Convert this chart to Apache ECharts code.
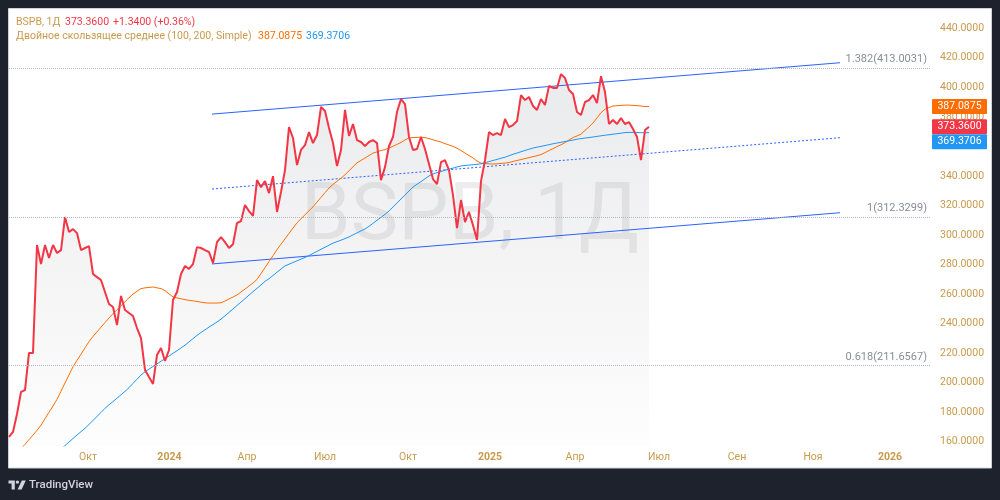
<!DOCTYPE html>
<html><head><meta charset="utf-8">
<script src="https://cdn.jsdelivr.net/npm/echarts@6/dist/echarts.min.js"></script>
<style>html,body{margin:0;padding:0;background:#1e222d;}#c{width:1000px;height:500px;}</style>
</head><body><div id="c"></div>
<script>
// ---- data (x = sample index along the bar axis) ----
const priceVals = [163.2,166.6,178.8,193.7,195.0,220.1,220.1,293.2,280.4,293.2,
284.4,293.2,287.8,289.8,312.2,302.0,304.0,301.3,289.8,291.2,
292.5,273.6,271.5,269.5,261.4,253.3,251.2,239.0,258.7,249.2,
247.2,245.1,237.0,230.2,208.6,203.8,199.1,218.7,223.5,214.7,
222.1,256.0,261.4,273.6,279.0,277.0,280.3,291.8,291.2,289.8,
288.5,281.0,295.2,298.6,295.2,291.2,293.8,308.1,309.5,320.3,
316.2,312.9,337.2,332.4,336.5,328.4,339.9,315.6,329.1,344.0,
373.1,365.7,347.4,357.6,360.9,369.7,362.3,367.7,386.7,384.0,
372.5,362.3,346.7,357.6,384.7,367.1,375.2,364.3,363.0,360.3,
363.0,364.3,362.3,337.2,346.0,360.3,366.4,383.3,392.1,388.7,
366.4,357.6,358.3,366.4,358.3,348.1,337.9,334.5,349.4,350.8,
344.0,327.0,304.7,323.7,308.8,315.6,306.7,296.6,336.5,350.8,
369.7,367.7,369.0,367.7,378.6,373.1,374.5,377.2,394.8,391.4,
393.5,387.4,384.7,392.1,388.1,401.0,399.6,399.6,409.0,406.3,
398.2,395.5,383.3,381.3,390.1,391.4,394.8,389.4,407.6,396.8,
375.2,377.9,375.2,379.2,375.2,376.5,371.8,366.4,350.7,371.1,
373.36];
const sma100Start = 3;
const sma100Vals = [155.4,158.2,161.4,164.5,167.7,171.2,175.6,179.9,184.2,188.7,
194.2,199.8,205.2,210.8,215.1,219.3,223.6,227.8,231.3,234.4,
237.6,240.7,243.8,246.7,249.4,252.1,254.8,257.5,260.0,261.9,
263.7,264.2,264.5,264.8,264.2,263.7,262.3,260.2,258.0,257.4,
256.8,256.2,255.8,255.4,255.0,254.5,254.1,253.9,253.9,253.9,
254.1,255.3,256.7,258.0,259.4,261.4,263.4,265.5,267.5,269.9,
273.9,277.9,282.0,286.0,290.1,293.8,297.4,301.1,304.7,308.3,
311.0,313.7,316.4,319.1,322.3,325.5,328.7,331.8,334.3,336.4,
338.5,340.8,343.5,346.2,348.9,350.5,352.2,353.8,355.5,356.3,
357.2,357.9,358.9,360.1,361.4,362.7,364.4,365.8,366.0,366.1,
366.3,366.0,365.3,364.5,363.7,363.0,361.9,361.0,360.0,358.8,
357.2,355.5,353.8,352.2,350.1,348.7,348.4,348.2,348.1,348.2,
348.5,348.7,349.1,349.8,350.5,351.1,351.8,352.4,353.1,353.7,
354.5,355.8,357.2,358.5,359.9,361.1,362.6,364.4,366.0,367.1,
368.3,370.8,373.3,375.9,379.3,382.9,385.2,386.3,387.4,387.6,
387.8,388.0,388.0,387.8,387.6,387.4,387.0,387.0875];
const sma200Start = 13;
const sma200Vals = [155.1,157.4,159.8,162.2,164.5,166.8,169.1,171.7,174.4,177.1,
179.8,182.6,185.0,187.2,189.5,191.8,194.1,196.6,199.5,202.3,
205.1,207.4,209.2,210.9,212.7,214.5,216.2,218.0,219.9,221.6,
223.5,225.4,227.6,229.8,232.0,234.0,235.8,237.6,239.3,241.1,
243.0,245.3,247.6,249.9,252.3,254.6,256.9,259.3,261.6,263.9,
266.2,268.6,270.4,272.6,274.8,277.0,279.1,280.2,281.4,282.5,
283.7,284.8,286.1,287.5,288.9,290.3,291.7,293.1,294.5,295.5,
296.5,297.6,298.7,300.1,301.4,302.8,304.1,305.9,307.9,310.0,
312.0,314.0,316.3,319.0,321.7,324.4,327.1,329.8,332.5,334.4,
336.2,338.1,340.0,341.4,342.2,343.0,343.9,344.6,345.3,346.1,
346.8,347.1,347.4,347.6,347.9,348.2,349.0,349.7,350.5,351.2,
352.0,352.7,353.7,354.7,355.5,356.4,357.3,358.1,358.9,359.5,
360.0,360.6,361.2,361.8,362.3,362.8,363.3,363.8,364.3,364.9,
365.3,365.7,366.0,366.4,366.8,367.2,367.6,367.9,368.3,368.6,
369.0,369.4,369.5,369.5,369.4,369.3,369.3,369.3706];
const channelX = [50.75, 207.75];
const channelUpper = [381.9, 416.7];
const channelMid = [331.15, 365.9];
const channelLower = [280.4, 315.1];
const fibRatios = ['1.382', '1', '0.618'];
const fibValues = [413.0031, 312.3299, 211.6567];
const xTickPos = [19.75, 40.1, 59.5, 79, 99.75, 120.25, 141.5, 162.5, 182, 201, 220.25];
const xTickText = ['Окт','2024','Апр','Июл','Окт','2025','Апр','Июл','Сен','Ноя','2026'];
const yTicks = [160,180,200,220,240,260,280,300,320,340,360,380,400,420,440];
const tagValues = [387.0875, 373.36, 369.3706];
const tagColors = ['#ff6d00', '#f23645', '#2196f3'];

// ---- chart ----
const TAN = '#c79a4c';
const FONT = 'Roboto';
const chart = echarts.init(document.getElementById('c'));
const pairs = (vals, start) => vals.map((v, i) => [start + i, v]);

const option = {
  animation: false,
  backgroundColor: '#1e222d',
  grid: { left: 9, right: 69, top: 9, bottom: 54, containLabel: false },
  xAxis: {
    type: 'value', min: 0, max: 230.5,
    axisLine: { show: false }, axisTick: { show: false }, splitLine: { show: false },
    axisLabel: {
      customValues: xTickPos, margin: 6, color: TAN, fontSize: 10.5, fontFamily: FONT,
      formatter: v => {
        let k = 0, best = 1e9;
        xTickPos.forEach((p, j) => { if (Math.abs(p - v) < best) { best = Math.abs(p - v); k = j; } });
        const t = xTickText[k];
        return /^\d{4}$/.test(t) ? '{b|' + t + '}' : t;
      },
      rich: { b: { fontWeight: 'bold', color: TAN, fontSize: 10.5, fontFamily: FONT } }
    }
  },
  yAxis: {
    type: 'value', position: 'right', min: 157.09, max: 453.09, scale: true,
    axisLine: { show: false }, axisTick: { show: false }, splitLine: { show: false },
    axisLabel: {
      customValues: yTicks, margin: 9, color: TAN, fontSize: 10.5, fontFamily: FONT,
      align: 'left', formatter: v => v.toFixed(4)
    }
  },
  series: [
    { type: 'line', name: 'area', data: pairs(priceVals, 0), symbol: 'none', z: 1,
      lineStyle: { width: 0 }, silent: true,
      areaStyle: { origin: 'start', color: new echarts.graphic.LinearGradient(0, 0, 0, 1, [
        { offset: 0, color: 'rgba(120,123,134,0.22)' },
        { offset: 1, color: 'rgba(120,123,134,0.02)' }]) },
      markLine: {
        silent: true, symbol: 'none', animation: false,
        lineStyle: { type: 'dotted', color: '#b2b5be', width: 1 },
        label: { position: 'insideEndTop', color: '#8a8d98', fontSize: 11, fontFamily: FONT, distance: [4, 3] },
        data: fibValues.map((v, i) => ({ yAxis: v, label: { formatter: fibRatios[i] + '(' + v.toFixed(4) + ')' } }))
      }
    },
    { type: 'line', name: 'upper', data: channelX.map((x, i) => [x, channelUpper[i]]), symbol: 'none', z: 2,
      lineStyle: { color: '#2962ff', width: 1 } },
    { type: 'line', name: 'mid', data: channelX.map((x, i) => [x, channelMid[i]]), symbol: 'none', z: 2,
      lineStyle: { color: '#2962ff', width: 1, type: [2, 2] } },
    { type: 'line', name: 'lower', data: channelX.map((x, i) => [x, channelLower[i]]), symbol: 'none', z: 2,
      lineStyle: { color: '#2962ff', width: 1 } },
    { type: 'line', name: 'SMA100', data: pairs(sma100Vals, sma100Start), symbol: 'none', z: 3,
      lineStyle: { color: '#ff6d00', width: 1 } },
    { type: 'line', name: 'SMA200', data: pairs(sma200Vals, sma200Start), symbol: 'none', z: 3,
      lineStyle: { color: '#2196f3', width: 1 } },
    { type: 'line', name: 'BSPB', data: pairs(priceVals, 0), symbol: 'none', z: 4,
      lineStyle: { color: '#f23645', width: 2 } }
  ]
};
chart.setOption(option);

// price tags on the axis, positioned via the y scale, pushed apart if overlapping
const tags = tagValues.map((v, i) => ({ v, color: tagColors[i], y: chart.convertToPixel({ yAxisIndex: 0 }, v) }));
tags.sort((a, b) => a.y - b.y);
const TH = 15;
for (let i = 1; i < tags.length; i++) if (tags[i].y - tags[i - 1].y < TH) tags[i].y = tags[i - 1].y + TH;

const graphics = [
  { type: 'rect', z: -10, shape: { x: 8.5, y: 8.5, width: 983, height: 459.5 },
    style: { fill: '#ffffff', stroke: '#cfd2da', lineWidth: 1 } },
  { type: 'text', z: -5, x: 470, y: 219,
    style: { text: 'BSPB, 1Д', font: '80px Roboto', fill: 'rgba(0,0,0,0.075)', textAlign: 'center', textVerticalAlign: 'middle' } },
  { type: 'text', z: 100, x: 16, y: 22, style: { text: 'BSPB, 1Д', font: '10.5px Roboto', fill: TAN, textVerticalAlign: 'middle' } },
  { type: 'text', z: 100, x: 65, y: 22, style: { text: priceVals[priceVals.length - 1].toFixed(4), font: '10.5px Roboto', fill: '#f23645', textVerticalAlign: 'middle' } },
  { type: 'text', z: 100, x: 113, y: 22, style: { text: '+1.3400 (+0.36%)', font: '10.5px Roboto', fill: '#f23645', textVerticalAlign: 'middle' } },
  { type: 'text', z: 100, x: 16, y: 36.5, style: { text: 'Двойное скользящее среднее (100, 200, Simple)', font: '10.5px Roboto', fill: TAN, textVerticalAlign: 'middle' } },
  { type: 'text', z: 100, x: 258, y: 36.5, style: { text: sma100Vals[sma100Vals.length - 1].toFixed(4), font: '10.5px Roboto', fill: '#ff6d00', textVerticalAlign: 'middle' } },
  { type: 'text', z: 100, x: 306, y: 36.5, style: { text: sma200Vals[sma200Vals.length - 1].toFixed(4), font: '10.5px Roboto', fill: '#2196f3', textVerticalAlign: 'middle' } },
  // TradingView logo
  { type: 'polygon', z: 100, shape: { points: [[8.5,480.5],[14.8,480.5],[14.8,489.5],[11.6,489.5],[11.6,483.6],[8.5,483.6]] }, style: { fill: '#d1d4dc' } },
  { type: 'circle', z: 100, shape: { cx: 17.4, cy: 482.1, r: 1.7 }, style: { fill: '#d1d4dc' } },
  { type: 'polygon', z: 100, shape: { points: [[21.8,480.5],[25.8,480.5],[21.6,489.5],[17.6,489.5]] }, style: { fill: '#d1d4dc' } },
  { type: 'text', z: 100, x: 29, y: 485, style: { text: 'TradingView', font: '500 11.5px Roboto', fill: '#d1d4dc', textVerticalAlign: 'middle' } }
];
tags.forEach(t => {
  graphics.push({ type: 'rect', z: 100, shape: { x: 932, y: t.y - TH / 2, width: 55, height: TH, r: 1 }, style: { fill: t.color } });
  graphics.push({ type: 'text', z: 101, x: 959.5, y: t.y, style: { text: t.v.toFixed(4), font: '10.5px Roboto', fill: '#ffffff', textAlign: 'center', textVerticalAlign: 'middle' } });
});
chart.setOption({ graphic: graphics });
</script></body></html>
